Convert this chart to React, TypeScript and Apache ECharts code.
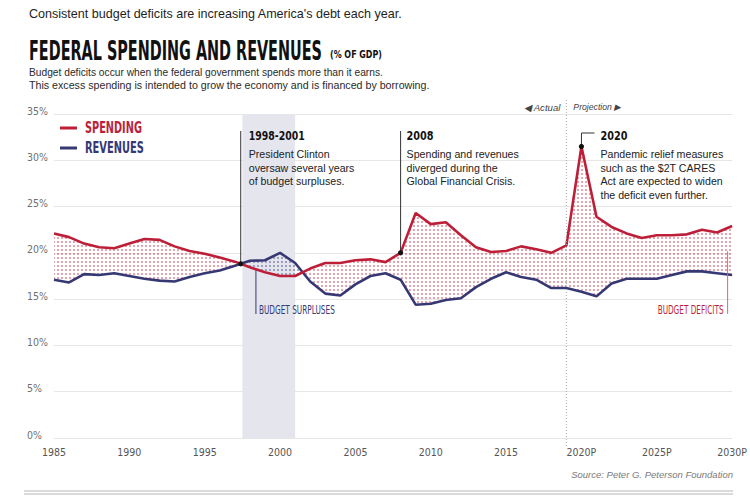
import React, { useEffect, useRef } from "react";
import * as echarts from "echarts";

// Federal spending and revenues, % of GDP (2020-2030 are projections)
const years = [
  1985, 1986, 1987, 1988, 1989, 1990, 1991, 1992, 1993, 1994,
  1995, 1996, 1997, 1998, 1999, 2000, 2001, 2002, 2003, 2004,
  2005, 2006, 2007, 2008, 2009, 2010, 2011, 2012, 2013, 2014,
  2015, 2016, 2017, 2018, 2019, 2020, 2021, 2022, 2023, 2024,
  2025, 2026, 2027, 2028, 2029, 2030,
];
const spending = [
  22.1, 21.7, 21.0, 20.6, 20.5, 21.0, 21.5, 21.4, 20.7, 20.2,
  19.9, 19.5, 19.05, 18.45, 17.9, 17.5, 17.5, 18.3, 18.9, 18.9,
  19.2, 19.3, 19.0, 20.0, 24.3, 23.1, 23.3, 21.9, 20.6, 20.1,
  20.2, 20.7, 20.4, 20.0, 20.8, 31.5, 23.9, 22.8, 22.1, 21.6,
  21.9, 21.9, 22.0, 22.5, 22.2, 22.9,
];
const revenues = [
  17.1, 16.8, 17.7, 17.6, 17.8, 17.5, 17.2, 17.0, 16.9, 17.4,
  17.8, 18.1, 18.6, 19.15, 19.2, 20.0, 18.9, 16.9, 15.6, 15.4,
  16.6, 17.5, 17.8, 17.1, 14.4, 14.5, 14.9, 15.1, 16.3, 17.2,
  17.9, 17.4, 17.1, 16.2, 16.2, 15.8, 15.3, 16.7, 17.2, 17.2,
  17.2, 17.6, 18.0, 18.0, 17.8, 17.6,
];
const yMin = 0;
const yMax = 35;
const yStep = 5;
const xStep = 5;
const firstProjectedTick = 2020;
const surplusSpan = [1997.5, 2001];
const projectionStart = 2019;

const RED = "#bd1f38";
const NAVY = "#363873";
const INK = "#222222";
const NARROW = '"Liberation Sans Narrow", "DejaVu Sans Condensed", "Arial Narrow", "Liberation Sans", sans-serif';
const SANS = '"Liberation Sans", Arial, Helvetica, sans-serif';

let measureCtx: CanvasRenderingContext2D | null = null;
function textWidth(text: string, font: string): number {
  if (!measureCtx) measureCtx = document.createElement("canvas").getContext("2d");
  measureCtx!.font = font;
  return measureCtx!.measureText(text).width;
}

// condensed headline text squeezed horizontally to a given width
function squeezed(text: string, x: number, y: number, width: number, size: number, fill: string, weight = "bold", align = "left") {
  const w = textWidth(text, `${weight} ${size}px ${NARROW}`);
  return {
    type: "text", x, y, scaleX: width / w, silent: true, z: 50,
    style: { text, fontSize: size, fontFamily: NARROW, fontWeight: weight, fill, align, verticalAlign: "middle" },
  };
}

// body text sized so that it spans a given width
function fitSize(text: string, width: number, style = "normal") {
  const w = textWidth(text, `${style} 10px ${SANS}`);
  return (10 * width) / w;
}

function bodyText(text: string, x: number, y: number, size: number, fill = INK, style = "normal", align = "left") {
  return {
    type: "text", x, y, silent: true, z: 50,
    style: { text, fontSize: size, fontFamily: SANS, fontStyle: style, fill, align, verticalAlign: "middle" },
  };
}

function dotPattern(color: string) {
  const c = document.createElement("canvas");
  c.width = 4;
  c.height = 4;
  const ctx = c.getContext("2d")!;
  ctx.fillStyle = color;
  ctx.beginPath();
  ctx.arc(2, 2, 0.75, 0, Math.PI * 2);
  ctx.fill();
  return { image: c, repeat: "repeat", imageWidth: 4, imageHeight: 4 } as any;
}

export default function App() {
  const ref = useRef<HTMLDivElement>(null);

  useEffect(() => {
    const chart = echarts.init(ref.current!, null, { renderer: "svg" });
    const redDots = dotPattern(RED);
    const blueDots = dotPattern(NAVY);

    const option: any = {
      animation: false,
      backgroundColor: "#ffffff",
      grid: { left: 54, right: 17, top: 114, bottom: 65 },
      xAxis: {
        type: "value", min: years[0], max: years[years.length - 1], interval: xStep,
        axisLine: { show: false }, axisTick: { show: false }, splitLine: { show: false },
        axisLabel: {
          color: "#555", fontSize: 10.5, fontFamily: NARROW, margin: 8,
          formatter: (v: number) => (v >= firstProjectedTick ? `${v}P` : `${v}`),
        },
      },
      yAxis: {
        type: "value", min: yMin, max: yMax, interval: yStep,
        axisLine: { show: false }, axisTick: { show: false },
        splitLine: { lineStyle: { color: "#e6e6e6", width: 1 } },
        axisLabel: {
          color: "#707070", fontSize: 10.5, fontFamily: NARROW, margin: 27,
          align: "left", verticalAlign: "bottom", lineHeight: 7, formatter: "{value}%",
        },
      },
      series: [
        {
          name: "surplus-shade", type: "line", data: [], z: 1, silent: true,
          markArea: {
            silent: true,
            itemStyle: { color: "#e5e5ee" },
            data: [[{ xAxis: surplusSpan[0] }, { xAxis: surplusSpan[1] }]],
          },
        },
        {
          name: "gap", type: "custom", z: 2, silent: true,
          data: years.slice(0, -1).map((y, i) => [y, spending[i], revenues[i]]),
          encode: { x: 0, y: [1, 2] },
          renderItem: (params: any, api: any) => {
            const i = params.dataIndex;
            const x0 = years[i], x1 = years[i + 1];
            const s0 = spending[i], s1 = spending[i + 1];
            const r0 = revenues[i], r1 = revenues[i + 1];
            const P = (x: number, v: number) => api.coord([x, v]);
            const d0 = s0 - r0, d1 = s1 - r1;
            const polys: { pts: number[][]; deficit: boolean }[] = [];
            if (d0 * d1 >= 0) {
              polys.push({ pts: [P(x0, s0), P(x1, s1), P(x1, r1), P(x0, r0)], deficit: d0 + d1 >= 0 });
            } else {
              const t = d0 / (d0 - d1);
              const xc = x0 + t * (x1 - x0);
              const vc = s0 + t * (s1 - s0);
              polys.push({ pts: [P(x0, s0), P(xc, vc), P(x0, r0)], deficit: d0 > 0 });
              polys.push({ pts: [P(xc, vc), P(x1, s1), P(x1, r1)], deficit: d1 > 0 });
            }
            return {
              type: "group",
              children: polys.map((p) => ({
                type: "polygon",
                shape: { points: p.pts },
                style: { fill: p.deficit ? redDots : blueDots, stroke: null },
              })),
            };
          },
        },
        {
          name: "REVENUES", type: "line", z: 3, showSymbol: false, silent: true,
          data: years.map((y, i) => [y, revenues[i]]),
          lineStyle: { color: NAVY, width: 2.6 }, itemStyle: { color: NAVY },
        },
        {
          name: "SPENDING", type: "line", z: 4, showSymbol: false, silent: true,
          data: years.map((y, i) => [y, spending[i]]),
          lineStyle: { color: RED, width: 2.6 }, itemStyle: { color: RED },
        },
      ],
    };
    chart.setOption(option);

    const px = (x: number, v: number) => chart.convertToPixel({ gridIndex: 0 }, [x, v]) as number[];
    const valueAt = (arr: number[], x: number) => {
      const i = Math.min(Math.floor(x - years[0]), years.length - 2);
      const t = x - years[i];
      return arr[i] + t * (arr[i + 1] - arr[i]);
    };

    // first year where revenues overtake spending
    let cross = [years[0], spending[0]];
    for (let i = 0; i < years.length - 1; i++) {
      const d0 = spending[i] - revenues[i];
      const d1 = spending[i + 1] - revenues[i + 1];
      if (d0 > 0 && d1 < 0) {
        const t = d0 / (d0 - d1);
        cross = [years[i] + t, spending[i] + t * (spending[i + 1] - spending[i])];
        break;
      }
    }
    const crossPx = px(cross[0], cross[1]);
    const i2008 = years.indexOf(2008);
    const p2008 = px(2008, spending[i2008]);
    const i2020 = years.indexOf(2020);
    const p2020 = px(2020, spending[i2020]);
    const projX = px(projectionStart, 0)[0];
    const surplusX = 1998.4;
    const surplusTop = px(surplusX, valueAt(spending, surplusX));
    const deficitX = 2029.7;
    const deficitTop = px(deficitX, (valueAt(spending, deficitX) + valueAt(revenues, deficitX)) / 2);

    const noteSize = fitSize("Pandemic relief measures", 123);
    const leader = { stroke: "#333", lineWidth: 1 };
    const dot = (p: number[]) => ({ type: "circle", shape: { cx: p[0], cy: p[1], r: 2.6 }, style: { fill: "#111" }, z: 60, silent: true });
    const vline = (x: number, y1: number, y2: number, style: any) =>
      ({ type: "line", shape: { x1: x, y1, x2: x, y2 }, style, z: 40, silent: true });

    const graphic: any[] = [
      bodyText("Consistent budget deficits are increasing America's debt each year.", 29, 14,
        fitSize("Consistent budget deficits are increasing America's debt each year.", 374), "#1e1e1e"),
      squeezed("FEDERAL SPENDING AND REVENUES", 29, 50, 293, 27, "#111"),
      squeezed("(% OF GDP)", 330, 54, 52, 11, "#111"),
      bodyText("Budget deficits occur when the federal government spends more than it earns.", 29, 72,
        fitSize("Budget deficits occur when the federal government spends more than it earns.", 354), "#2a2a2a"),
      bodyText("This excess spending is intended to grow the economy and is financed by borrowing.", 29, 85,
        fitSize("This excess spending is intended to grow the economy and is financed by borrowing.", 401), "#2a2a2a"),

      // legend
      { type: "rect", shape: { x: 60, y: 126.5, width: 17, height: 3 }, style: { fill: RED }, z: 50, silent: true },
      squeezed("SPENDING", 85, 128, 57, 15, RED),
      { type: "rect", shape: { x: 60, y: 146.5, width: 17, height: 3 }, style: { fill: NAVY }, z: 50, silent: true },
      squeezed("REVENUES", 85, 148, 59, 15, NAVY),

      // actual / projection divider
      vline(projX, 100, 448, { stroke: "#aaa", lineWidth: 1, lineDash: [1, 2] }),
      bodyText("◀ Actual", projX - 6, 107, fitSize("◀ Actual", 37, "italic"), "#444", "italic", "right"),
      bodyText("Projection ▶", projX + 7, 107, fitSize("Projection ▶", 48, "italic"), "#444", "italic", "left"),

      // 1998-2001 note
      vline(crossPx[0], 131, crossPx[1], leader),
      dot(crossPx),
      squeezed("1998-2001", crossPx[0] + 8, 136, 56, 13, "#111"),
      bodyText("President Clinton", crossPx[0] + 8, 154, noteSize),
      bodyText("oversaw several years", crossPx[0] + 8, 167.5, noteSize),
      bodyText("of budget surpluses.", crossPx[0] + 8, 181, noteSize),

      // 2008 note
      vline(p2008[0], 131, p2008[1], leader),
      dot(p2008),
      squeezed("2008", p2008[0] + 6, 136, 27, 13, "#111"),
      bodyText("Spending and revenues", p2008[0] + 6, 154, noteSize),
      bodyText("diverged during the", p2008[0] + 6, 167.5, noteSize),
      bodyText("Global Financial Crisis.", p2008[0] + 6, 181, noteSize),

      // 2020 note
      { type: "polyline", shape: { points: [[p2020[0], p2020[1]], [p2020[0], 133], [p2020[0] + 13, 133]] }, style: { ...leader, fill: null }, z: 40, silent: true },
      dot(p2020),
      squeezed("2020", p2020[0] + 19, 136, 27, 13, "#111"),
      bodyText("Pandemic relief measures", p2020[0] + 19, 154, noteSize),
      bodyText("such as the $2T CARES", p2020[0] + 19, 167.5, noteSize),
      bodyText("Act are expected to widen", p2020[0] + 19, 181, noteSize),
      bodyText("the deficit even further.", p2020[0] + 19, 194.5, noteSize),

      // region labels
      vline(surplusTop[0], surplusTop[1] + 1, 314, { stroke: NAVY, lineWidth: 1 }),
      squeezed("BUDGET SURPLUSES", surplusTop[0] + 3, 309, 76, 12.5, NAVY, "normal"),
      vline(deficitTop[0], deficitTop[1], 314, { stroke: "#d9687a", lineWidth: 1 }),
      squeezed("BUDGET DEFICITS", deficitTop[0] - 4, 309, 66, 12.5, RED, "normal", "right"),

      // footer
      bodyText("Source: Peter G. Peterson Foundation", 733, 474,
        fitSize("Source: Peter G. Peterson Foundation", 162, "italic"), "#7a7a7a", "italic", "right"),
      { type: "line", shape: { x1: 24, y1: 491, x2: 733, y2: 491 }, style: { stroke: "#b5b5b5", lineWidth: 1 }, z: 50, silent: true },
      { type: "line", shape: { x1: 24, y1: 494, x2: 733, y2: 494 }, style: { stroke: "#b5b5b5", lineWidth: 1 }, z: 50, silent: true },
    ];
    chart.setOption({ graphic });

    return () => chart.dispose();
  }, []);

  return (
    <div
      ref={ref}
      style={{ position: "fixed", left: 0, top: 0, width: 750, height: 503, background: "#fff" }}
    />
  );
}
